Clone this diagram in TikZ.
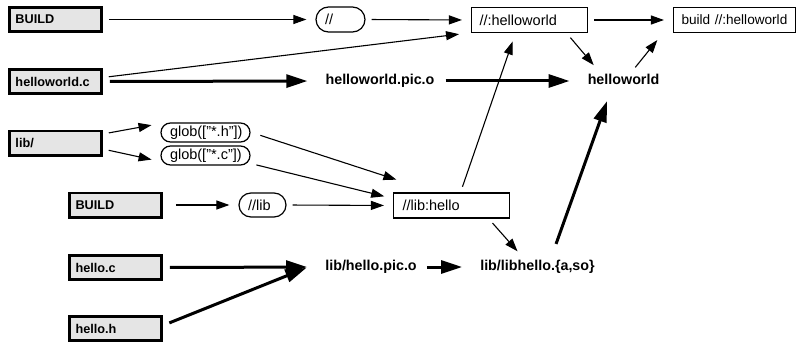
\documentclass[tikz,border=0pt]{standalone}
\usepackage{fontspec}
\setmainfont{Liberation Sans}
\usetikzlibrary{arrows.meta,calc}
\begin{document}
\begin{tikzpicture}[x=1pt,y=-1pt,
  src/.style={draw, line width=2.7pt, fill=black!10, minimum height=24.3pt,
    inner xsep=6pt, inner ysep=0pt, text width=80pt, align=left,
    font=\fontsize{12.7}{14}\selectfont\bfseries},
  tgt/.style={draw, line width=1.1pt, minimum height=25pt, inner xsep=8pt,
    inner ysep=0pt, align=left, font=\fontsize{14.5}{16}\selectfont},
  oval/.style={draw, line width=1.2pt, inner xsep=9pt, inner ysep=0pt,
    align=left, font=\fontsize{14.5}{16}\selectfont},
  plain/.style={inner xsep=2pt, inner ysep=2pt, text height=10.5pt, text depth=3pt,
    font=\fontsize{14.3}{16}\selectfont\bfseries},
  thinarr/.style={line width=1.1pt, -{Triangle[length=13pt,width=9pt]},
    shorten <=6pt, shorten >=9pt},
  thickarr/.style={line width=3pt, -{Triangle[length=21pt,width=13pt]},
    shorten <=7pt, shorten >=16pt}
]
\useasboundingbox (0,0) rectangle (802,342);

% source boxes
\node[src] (b1)   at (55.5,19.5)  {BUILD};
\node[src] (hc)   at (55.5,81.5)  {helloworld.c};
\node[src] (lib)  at (55.5,143)   {lib/};
\node[src] (b2)   at (115.5,205)  {BUILD};
\node[src] (hc2)  at (115.5,267.5){hello.c};
\node[src] (hh)   at (115.5,328.5){hello.h};

% ovals
\node[oval, text width=31pt, minimum height=25pt, rounded corners=12.5pt] (slash) at (340.5,19.5) {//};
\node[oval, text width=71pt, minimum height=19pt, rounded corners=9.5pt] (globh) at (205.5,132.5) {glob(["*.h"])};
\node[oval, text width=71pt, minimum height=19pt, rounded corners=9.5pt] (globc) at (205.5,155.5) {glob(["*.c"])};
\node[oval, text width=29pt, minimum height=24pt, rounded corners=12pt] (libslash) at (262.5,205) {//lib};

% target rectangles
\node[tgt, text width=100pt] (hwr) at (529.5,20) {//:helloworld};
\node[tgt, text width=106pt, font=\fontsize{13.6}{16}\selectfont] (bld) at (734.5,20) {build //:helloworld};
\node[tgt, text width=98pt, inner xsep=9pt] (libr) at (451.5,205.5) {//lib:hello};

% plain outputs
\node[plain] (hpo)      at (380,81)    {helloworld.pic.o};
\node[plain] (hw)       at (623.5,81)  {helloworld};
\node[plain] (hpo2)     at (371,267)   {lib/hello.pic.o};
\node[plain] (libhello) at (537.5,267) {lib/libhello.\{a,so\}};

% connectors
\draw[thinarr] (b1.east) -- (slash.west);
\draw[thinarr] (slash.east) -- (hwr.west);
\draw[thinarr] ($(hc.east)+(0,-4)$) -- ($(hwr.south west)+(-3,0)$);
\draw[thickarr] (hc.east) -- (hpo.west);
\draw[thickarr, shorten <=9pt] (hpo.east) -- (hw.west);
\draw[thinarr] ($(hwr.south)+(37,0)$) -- ($(hw.north west)+(14,0)$);
\draw[thinarr] (hwr.east) -- (bld.west);
\draw[thinarr] ($(hw.north)+(8,0)$) -- ($(bld.south west)+(-10,0)$);
\draw[thinarr] ($(lib.east)+(0,-9)$) -- ($(globh.west)+(0,-9)$);
\draw[thinarr] ($(lib.east)+(0,6)$) -- ($(globc.west)+(0,6)$);
\draw[thinarr] ($(globh.east)+(4,1)$) -- ($(libr.north west)+(12,-10)$);
\draw[thinarr] ($(globc.east)+(0,8)$) -- ($(libr.west)+(0,-7)$);
\draw[thinarr, shorten <=13pt] (b2.east) -- (libslash.west);
\draw[thinarr] (libslash.east) -- (libr.west);
\draw[thinarr] ($(libr.north)+(9,0)$) -- ($(hwr.south)+(-14,0)$);
\draw[thinarr] ($(libr.south)+(37,0)$) -- ($(libhello.north)+(-14,0)$);
\draw[thickarr] (hc2.east) -- (hpo2.west);
\draw[thickarr] ($(hh.east)+(0,-3)$) -- ($(hpo2.west)+(-2,-5)$);
\draw[thickarr, shorten <=8pt] (hpo2.east) -- (libhello.west);
\draw[thickarr, shorten <=15pt] ($(libhello.north)+(13.5,0)$) -- ($(hw.south)+(-11,-4)$);
\end{tikzpicture}
\end{document}
